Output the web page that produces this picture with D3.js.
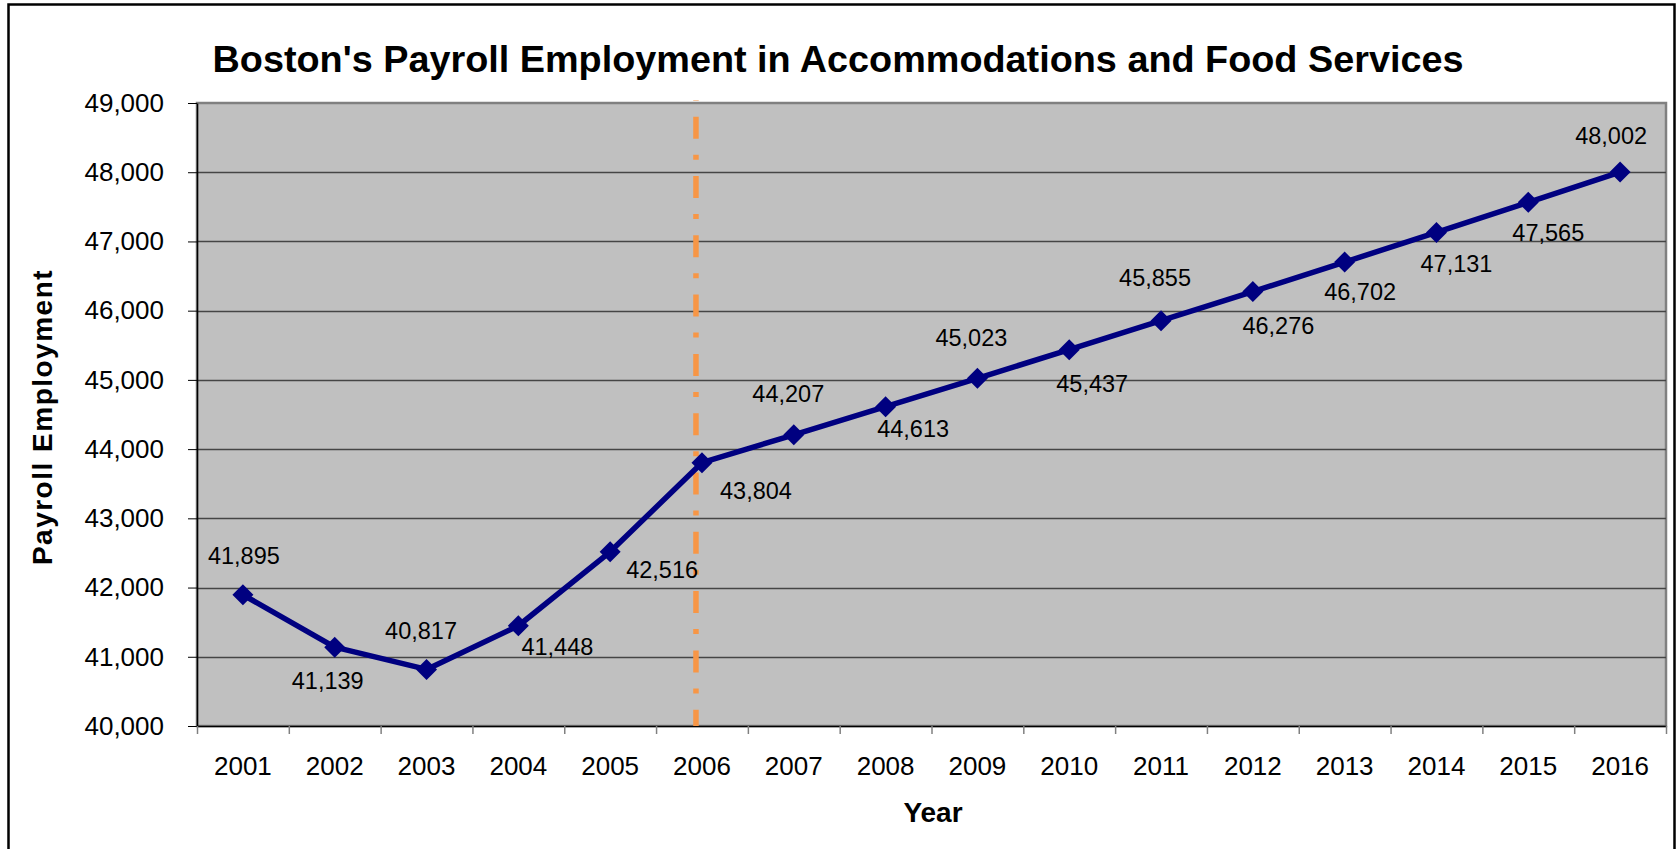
<!DOCTYPE html>
<html>
<head>
<meta charset="utf-8">
<script src="https://cdn.jsdelivr.net/npm/d3@7"></script>
<style>
  body { margin: 0; background: #fff; }
  svg { display: block; font-family: "Liberation Sans", Arial, sans-serif; }
  .axis path.domain { stroke: #000; stroke-width: 1.5; }
  .y.axis .tick line { stroke: #000; }
  .x.axis .tick line { stroke: #808080; stroke-width: 1.5; }
  .axis text { font-size: 26px; fill: #000; }
</style>
</head>
<body>
<div id="chart"></div>
<script>
// data
var years = ["2001", "2002", "2003", "2004", "2005", "2006", "2007", "2008",
             "2009", "2010", "2011", "2012", "2013", "2014", "2015", "2016"];
var employment = [41895, 41139, 40817, 41448, 42516, 43804, 44207, 44613,
                  45023, 45437, 45855, 46276, 46702, 47131, 47565, 48002];
var yTicks = [40000, 41000, 42000, 43000, 44000, 45000, 46000, 47000, 48000, 49000];
var markerYear = "2006";

// where each value label sits relative to its point (dx of centre, dy of baseline)
var labelDx = [1, -7, -5.5, 39, 52, 54, -5.5, 27.5, -6, 23, -6, 25.5, 15.5, 20, 20, -9];
var labelDy = [-31, 42, -30, 29, 26, 36, -33, 30, -32, 42, -35, 42.6, 38, 40, 39, -28];

var W = 1677, H = 849;
var margin = {top: 103, right: 11, bottom: 123, left: 197},
    width = W - margin.left - margin.right,
    height = H - margin.top - margin.bottom;

var svg = d3.select("#chart").append("svg")
    .attr("width", W)
    .attr("height", H);

// outer frame
svg.append("rect")
    .attr("x", 8.5).attr("y", 4.5)
    .attr("width", 1666).attr("height", 900)
    .attr("fill", "#fff")
    .attr("stroke", "#000")
    .attr("stroke-width", 2.5);

svg.append("text")
    .attr("x", 838)
    .attr("y", 72)
    .attr("text-anchor", "middle")
    .style("font-size", "37.8px")
    .style("font-weight", "bold")
    .text("Boston's Payroll Employment in Accommodations and Food Services");

var g = svg.append("g")
    .attr("transform", "translate(" + margin.left + "," + margin.top + ")");

var x = d3.scaleBand().domain(years).range([0, width]).padding(0);
var y = d3.scaleLinear().domain([40000, 49000]).range([height, 0]);

// plot area
g.append("rect")
    .attr("width", width)
    .attr("height", height)
    .attr("fill", "#c0c0c0")
    .attr("stroke", "#808080")
    .attr("stroke-width", 2.5);

// gridlines
g.selectAll(".grid")
    .data(yTicks.slice(1, -1))
    .enter().append("line")
    .attr("class", "grid")
    .attr("x1", 0).attr("x2", width)
    .attr("y1", function(d) { return Math.round(y(d)) + 0.5; })
    .attr("y2", function(d) { return Math.round(y(d)) + 0.5; })
    .attr("stroke", "#454545")
    .attr("stroke-width", 1.3);

// axes
g.append("g")
    .attr("class", "y axis")
    .call(d3.axisLeft(y).tickValues(yTicks).tickFormat(d3.format(",")).tickSize(9).tickPadding(24).tickSizeOuter(0));

var xTickScale = d3.scaleLinear().domain([0, years.length]).range([0, width]);
g.append("g")
    .attr("class", "x axis")
    .attr("transform", "translate(0," + height + ")")
    .call(d3.axisBottom(xTickScale).ticks(years.length).tickFormat("").tickSize(8).tickSizeOuter(0));

g.append("g")
    .attr("class", "x axis labels")
    .attr("transform", "translate(0," + height + ")")
    .call(d3.axisBottom(x).tickSize(0).tickPadding(30.5))
    .call(function(s) { s.select(".domain").remove(); });

// vertical marker line at 2006
var mx = x(markerYear) + x.bandwidth() / 2 - 6;
g.append("line")
    .attr("x1", mx).attr("x2", mx)
    .attr("y1", -3).attr("y2", height)
    .attr("stroke", "#f79646")
    .attr("stroke-width", 5.5)
    .attr("stroke-dasharray", "22,16,5,16.3")
    .attr("stroke-dashoffset", 42.6);

// series line
var line = d3.line()
    .x(function(d, i) { return x(years[i]) + x.bandwidth() / 2; })
    .y(function(d) { return y(d); });

g.append("path")
    .datum(employment)
    .attr("d", line)
    .attr("fill", "none")
    .attr("stroke", "#000080")
    .attr("stroke-width", 5.5)
    .attr("stroke-linejoin", "round");

g.selectAll(".marker")
    .data(employment)
    .enter().append("path")
    .attr("class", "marker")
    .attr("transform", function(d, i) {
        return "translate(" + (x(years[i]) + x.bandwidth() / 2) + "," + y(d) + ")";
    })
    .attr("d", "M0,-10.5L10.5,0L0,10.5L-10.5,0Z")
    .attr("fill", "#000080");

g.selectAll(".vlabel")
    .data(employment)
    .enter().append("text")
    .attr("class", "vlabel")
    .attr("x", function(d, i) { return x(years[i]) + x.bandwidth() / 2 + labelDx[i]; })
    .attr("y", function(d, i) { return y(d) + labelDy[i]; })
    .attr("text-anchor", "middle")
    .style("font-size", "23.5px")
    .text(function(d) { return d3.format(",")(d); });

// axis titles
svg.append("text")
    .attr("transform", "translate(52,417) rotate(-90)")
    .attr("text-anchor", "middle")
    .style("font-size", "28px")
    .style("font-weight", "bold")
    .style("letter-spacing", "1.5px")
    .text("Payroll Employment");

svg.append("text")
    .attr("x", 933)
    .attr("y", 822)
    .attr("text-anchor", "middle")
    .style("font-size", "28px")
    .style("font-weight", "bold")
    .text("Year");
</script>
</body>
</html>
